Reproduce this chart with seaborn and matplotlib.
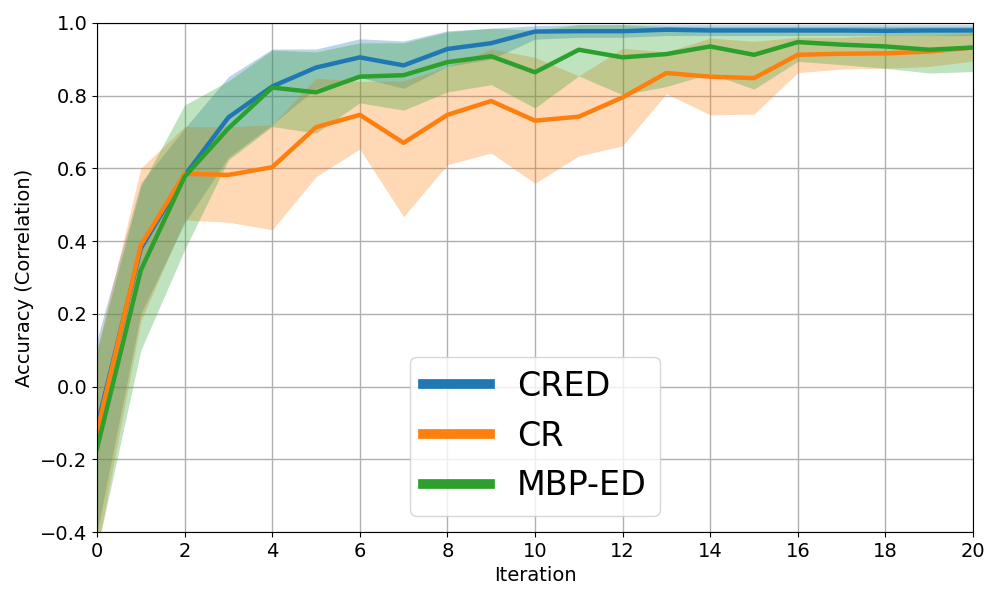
import numpy as np
import pandas as pd
import seaborn as sns
import matplotlib.pyplot as plt

# Data
iterations = list(range(21))

cred_mean = [-0.11, 0.38, 0.58, 0.74, 0.825, 0.877, 0.905, 0.883, 0.928, 0.944, 0.976,
             0.977, 0.977, 0.981, 0.979, 0.979, 0.979, 0.979, 0.978, 0.979, 0.979]
cred_low = [-0.40, 0.20, 0.45, 0.63, 0.72, 0.82, 0.85, 0.82, 0.88, 0.90, 0.955,
            0.96, 0.96, 0.965, 0.965, 0.965, 0.965, 0.965, 0.965, 0.965, 0.965]
cred_high = [0.13, 0.56, 0.71, 0.852, 0.928, 0.928, 0.956, 0.95, 0.978, 0.985, 0.992,
             0.995, 0.995, 0.995, 0.995, 0.995, 0.995, 0.995, 0.995, 0.995, 0.995]

cr_mean = [-0.124, 0.389, 0.585, 0.582, 0.603, 0.713, 0.747, 0.67, 0.747, 0.785, 0.731,
           0.742, 0.795, 0.862, 0.852, 0.848, 0.912, 0.915, 0.916, 0.921, 0.932]
cr_low = [-0.45, 0.18, 0.458, 0.452, 0.431, 0.577, 0.653, 0.467, 0.61, 0.642, 0.559,
          0.634, 0.662, 0.805, 0.747, 0.749, 0.863, 0.873, 0.875, 0.88, 0.895]
cr_high = [0.10, 0.60, 0.715, 0.714, 0.72, 0.848, 0.839, 0.84, 0.88, 0.928, 0.905,
           0.854, 0.93, 0.92, 0.958, 0.949, 0.96, 0.96, 0.965, 0.965, 0.972]

mbp_mean = [-0.17, 0.32, 0.577, 0.71, 0.822, 0.809, 0.852, 0.856, 0.892, 0.908, 0.864,
            0.926, 0.905, 0.914, 0.935, 0.912, 0.947, 0.94, 0.935, 0.926, 0.932]
mbp_low = [-0.45, 0.10, 0.376, 0.623, 0.715, 0.697, 0.78, 0.76, 0.81, 0.83, 0.766,
           0.854, 0.802, 0.825, 0.86, 0.818, 0.894, 0.885, 0.875, 0.862, 0.866]
mbp_high = [0.10, 0.55, 0.774, 0.84, 0.925, 0.92, 0.945, 0.945, 0.975, 0.985, 0.98,
            0.995, 0.995, 0.99, 0.99, 0.99, 0.99, 0.99, 0.99, 0.99, 0.99]

methods = ['CRED', 'CR', 'MBP-ED']
colors = ['#1f77b4', '#ff7f0e', '#2ca02c']

df = pd.DataFrame({
    'Iteration': iterations * 3,
    'Accuracy': cred_mean + cr_mean + mbp_mean,
    'Method': [m for m in methods for _ in iterations],
})
bands = {'CRED': (cred_low, cred_high), 'CR': (cr_low, cr_high), 'MBP-ED': (mbp_low, mbp_high)}

fig, ax = plt.subplots(figsize=(10, 6), dpi=100)

# Shaded spread for each method
for m, c in zip(methods, colors):
    low, high = bands[m]
    ax.fill_between(iterations, low, high, color=c, alpha=0.3, linewidth=0)

sns.lineplot(data=df, x='Iteration', y='Accuracy', hue='Method', palette=colors,
             linewidth=3.2, ax=ax, legend=False)

ax.grid(True, color='#b0b0b0', linewidth=1.0)
ax.set_axisbelow(True)
ax.set_xlim(0, 20)
ax.set_ylim(-0.4, 1.0)
ax.set_xticks(range(0, 21, 2))
ax.set_yticks(np.arange(-0.4, 1.01, 0.2))
ax.tick_params(labelsize=14)
ax.set_xlabel('Iteration', fontsize=14)
ax.set_ylabel('Accuracy (Correlation)', fontsize=14)

handles = [plt.Line2D([], [], color=c, linewidth=7) for c in colors]
ax.legend(handles, methods, loc='lower center', fontsize=24, handlelength=2.0)

plt.subplots_adjust(left=0.097, right=0.973, top=0.962, bottom=0.113)
plt.savefig('out.png', dpi=100)
